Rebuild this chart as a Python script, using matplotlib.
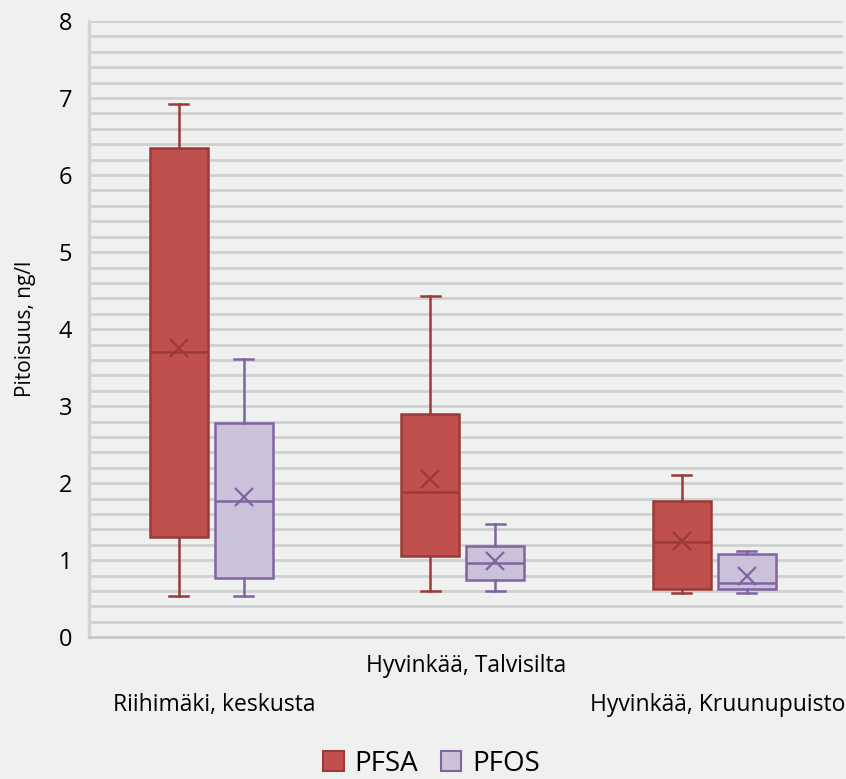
import numpy as np
import matplotlib.pyplot as plt
from matplotlib.patches import Patch
from matplotlib.transforms import blended_transform_factory

plt.rcParams['font.family'] = ['Open Sans', 'DejaVu Sans']

sites = ["Riihimäki, keskusta", "Hyvinkää, Talvisilta", "Hyvinkää, Kruunupuisto"]
series = ["PFSA", "PFOS"]

# whisker low, q1, median, q3, whisker high, mean (ng/l)
pfsa_low = [0.53, 0.60, 0.57]
pfsa_q1 = [1.30, 1.05, 0.62]
pfsa_med = [3.70, 1.88, 1.23]
pfsa_q3 = [6.35, 2.90, 1.77]
pfsa_high = [6.92, 4.43, 2.10]
pfsa_mean = [3.75, 2.06, 1.25]

pfos_low = [0.53, 0.60, 0.57]
pfos_q1 = [0.77, 0.74, 0.62]
pfos_med = [1.77, 0.97, 0.71]
pfos_q3 = [2.78, 1.18, 1.08]
pfos_high = [3.61, 1.47, 1.12]
pfos_mean = [1.82, 0.99, 0.80]

face = ["#c0504d", "#ccc1da"]
edge = ["#9b3a37", "#8064a2"]
bg = "#eff1f1"


def stats(lo, q1, med, q3, hi, mn):
    return [dict(whislo=a, q1=b, med=c, q3=d, whishi=e, mean=f, fliers=[])
            for a, b, c, d, e, f in zip(lo, q1, med, q3, hi, mn)]


fig = plt.figure(figsize=(8.46, 7.79), dpi=100, facecolor=bg)
ax = fig.add_axes([0.105, 0.182, 0.892, 0.791])
ax.set_facecolor(bg)

x = np.arange(len(sites))
all_stats = [stats(pfsa_low, pfsa_q1, pfsa_med, pfsa_q3, pfsa_high, pfsa_mean),
             stats(pfos_low, pfos_q1, pfos_med, pfos_q3, pfos_high, pfos_mean)]
offsets = [-0.143, 0.116]
for i in range(2):
    c = edge[i]
    ax.bxp(all_stats[i], positions=x + offsets[i], widths=0.23, capwidths=0.075,
           patch_artist=True, showmeans=True, showfliers=False,
           boxprops=dict(facecolor=face[i], edgecolor=c, linewidth=1.8),
           medianprops=dict(color=c, linewidth=1.8),
           whiskerprops=dict(color=c, linewidth=1.8),
           capprops=dict(color=c, linewidth=1.8),
           meanprops=dict(marker='x', markeredgecolor=c, markersize=13, markeredgewidth=1.6),
           zorder=3)

ax.set_xlim(-0.5, 2.5)
ax.set_ylim(0, 8)
ax.set_yticks(range(9))
ax.set_yticks(np.arange(0, 8.01, 0.2), minor=True)
ax.yaxis.grid(True, which='both', color='#d0d0d0', linewidth=2)
ax.set_axisbelow(True)
ax.tick_params(axis='y', which='both', length=0, labelsize=17, pad=12)
ax.set_xticks([])
for s in ['top', 'right']:
    ax.spines[s].set_visible(False)
ax.spines['left'].set_color('#d4d4d4')
ax.spines['left'].set_linewidth(2.5)
ax.spines['bottom'].set_color('#c8c8c8')
ax.spines['bottom'].set_linewidth(2)

fig.text(25 / 846, 1 - 329 / 779, "Pitoisuus, ng/l", rotation=90, ha='center', va='center', fontsize=15)

tr = blended_transform_factory(ax.transData, fig.transFigure)
label_y = [1 - 705 / 779, 1 - 666 / 779, 1 - 705 / 779]
for xi, name, yy in zip(x, sites, label_y):
    ax.text(xi, yy, name, transform=tr, ha='center', va='center', fontsize=16.5)

handles = [Patch(facecolor=face[i], edgecolor=edge[i], linewidth=1.5, label=series[i]) for i in range(2)]
fig.legend(handles=handles, loc='center', bbox_to_anchor=(0.51, 1 - 764 / 779), ncol=2,
           frameon=False, fontsize=20, handlelength=0.75, handleheight=0.75,
           handletextpad=0.4, columnspacing=0.8)

fig.savefig("out.png", dpi=100, facecolor=bg)
